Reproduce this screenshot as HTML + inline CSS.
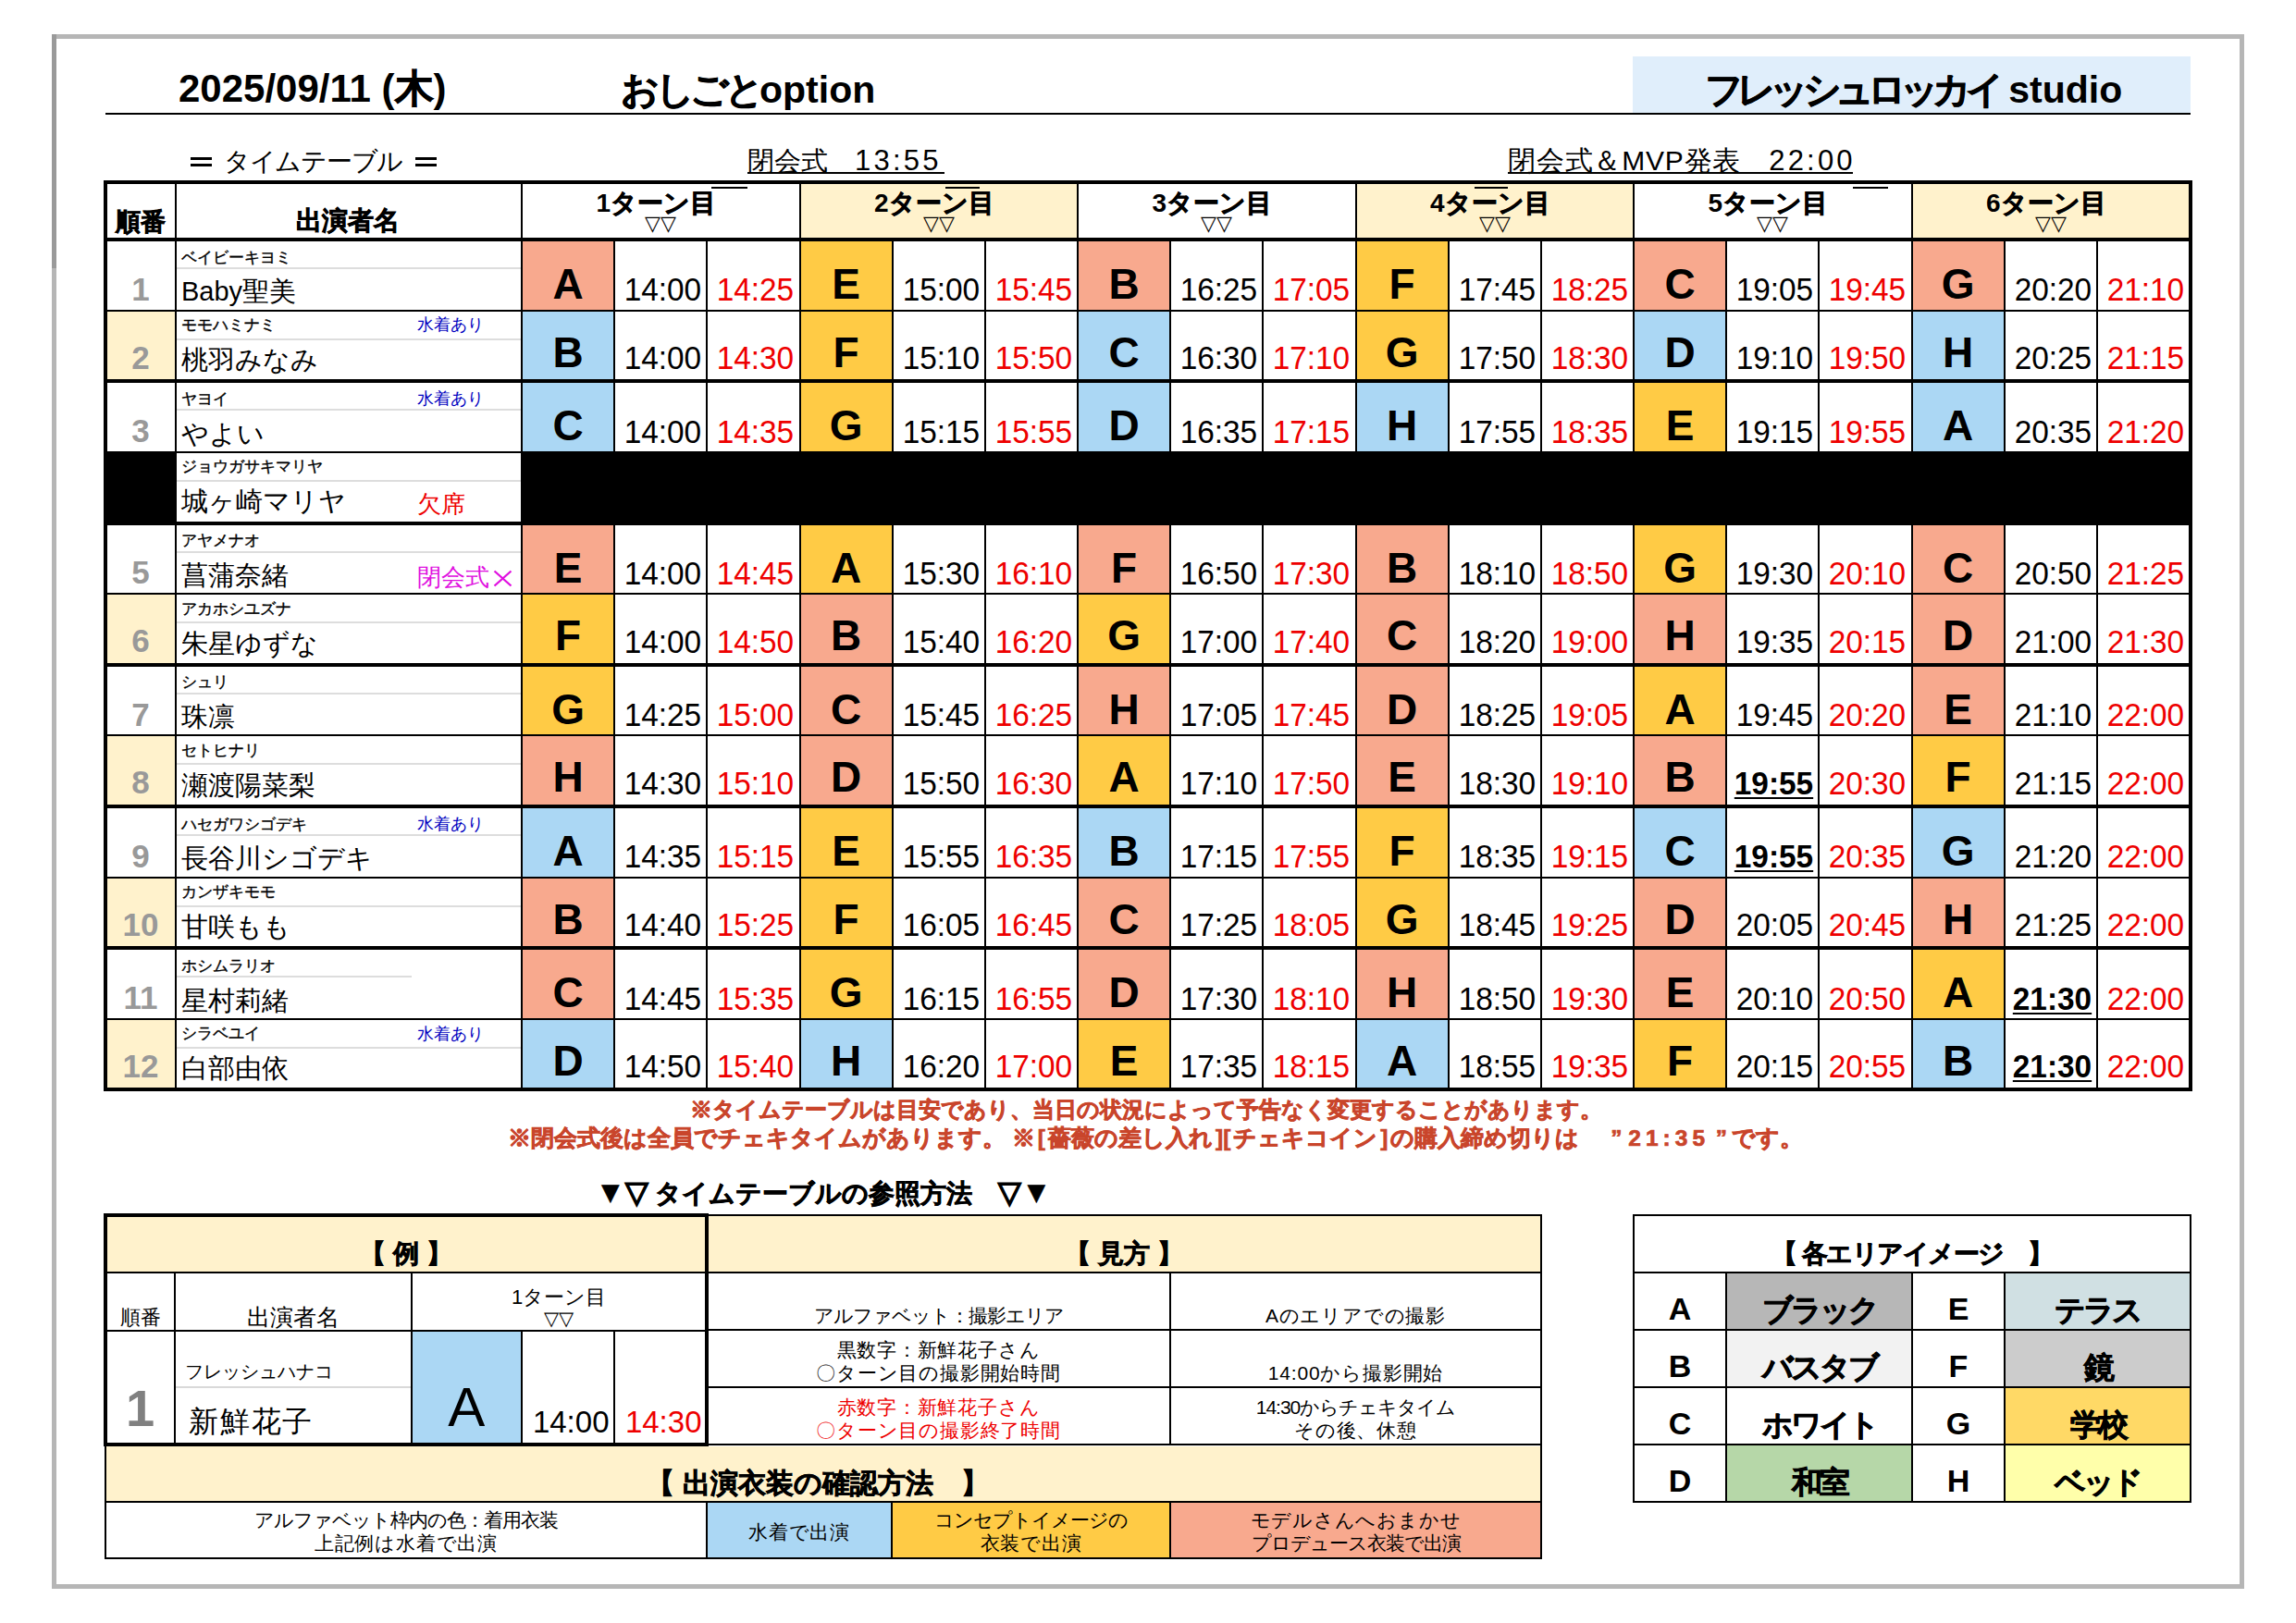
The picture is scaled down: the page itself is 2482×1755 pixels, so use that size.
<!DOCTYPE html>
<html><head><meta charset="utf-8"><style>
html,body{margin:0;padding:0;background:#fff;}
body{width:2482px;height:1755px;position:relative;overflow:hidden;font-family:"Liberation Sans",sans-serif;}
body>div,body>svg{position:absolute;white-space:nowrap;}
.b{-webkit-text-stroke:0.7px currentColor;}
</style></head><body>
<div style="left:56px;top:37px;width:2370px;height:5px;background:#b6b6b6;"></div>
<div style="left:56px;top:37px;width:5px;height:253px;background:#9a9a9a;"></div>
<div style="left:56px;top:290px;width:5px;height:1428px;background:#b6b6b6;"></div>
<div style="left:2421px;top:37px;width:5px;height:1681px;background:#b6b6b6;"></div>
<div style="left:56px;top:1713px;width:2370px;height:5px;background:#b6b6b6;"></div>
<div style="left:193.00px;top:75.45px;font-size:42px;line-height:42px;color:#000;font-weight:bold;">2025/09/11 (<span class="b">木</span>)</div>
<div style="left:671.00px;top:76.79px;font-size:41px;line-height:41px;color:#000;font-weight:bold;"><span class="b" style="letter-spacing:-4.5px">おしごと</span>option</div>
<div style="left:1765px;top:61px;width:603px;height:62px;background:#E0EEFB;"></div>
<div style="left:1843.00px;top:76.79px;font-size:41px;line-height:41px;color:#000;font-weight:bold;"><span class="b" style="letter-spacing:-6.8px">フレッシュロッカイ</span> studio</div>
<div style="left:114px;top:122px;width:2254px;height:2px;background:#000;"></div>
<div style="left:242.00px;top:161.30px;font-size:28px;line-height:28px;color:#000;"><span style="letter-spacing:-1.3px">タイムテーブル</span></div>
<div style="left:206px;top:169.5px;width:23px;height:3px;background:#000;"></div>
<div style="left:206px;top:176.5px;width:23px;height:3px;background:#000;"></div>
<div style="left:449px;top:169.5px;width:23px;height:3px;background:#000;"></div>
<div style="left:449px;top:176.5px;width:23px;height:3px;background:#000;"></div>
<div style="left:808.00px;top:158.95px;font-size:29px;line-height:29px;color:#000;">閉会式　<span style="letter-spacing:3.2px;font-size:31px">13:55</span></div>
<div style="left:808px;top:185.5px;width:213px;height:2px;background:#000;"></div>
<div style="left:1630.00px;top:158.60px;font-size:30px;line-height:30px;color:#000;"><span style="letter-spacing:0.8px">閉会式＆MVP発表</span>　<span style="letter-spacing:3.2px;font-size:31px">22:00</span></div>
<div style="left:1630px;top:185.5px;width:373px;height:2px;background:#000;"></div>
<div style="left:864.5px;top:199px;width:300.5px;height:60px;background:#FFF2CC;"></div>
<div style="left:1465.5px;top:199px;width:300.5px;height:60px;background:#FFF2CC;"></div>
<div style="left:2066.5px;top:199px;width:300.5px;height:60px;background:#FFF2CC;"></div>
<div style="left:564.0px;top:259.0px;width:100.16666666666667px;height:76.625px;background:#F8A98E;"></div>
<div style="left:864.5px;top:259.0px;width:100.16666666666667px;height:76.625px;background:#FFCB45;"></div>
<div style="left:1165.0px;top:259.0px;width:100.16666666666667px;height:76.625px;background:#F8A98E;"></div>
<div style="left:1465.5px;top:259.0px;width:100.16666666666667px;height:76.625px;background:#FFCB45;"></div>
<div style="left:1766.0px;top:259.0px;width:100.16666666666667px;height:76.625px;background:#F8A98E;"></div>
<div style="left:2066.5px;top:259.0px;width:100.16666666666667px;height:76.625px;background:#F8A98E;"></div>
<div style="left:190px;top:289.0px;width:374px;height:2px;background:#dddddd;"></div>
<div style="left:114px;top:335.625px;width:76px;height:76.625px;background:#FFF2CC;"></div>
<div style="left:564.0px;top:335.625px;width:100.16666666666667px;height:76.625px;background:#ABD7F4;"></div>
<div style="left:864.5px;top:335.625px;width:100.16666666666667px;height:76.625px;background:#FFCB45;"></div>
<div style="left:1165.0px;top:335.625px;width:100.16666666666667px;height:76.625px;background:#ABD7F4;"></div>
<div style="left:1465.5px;top:335.625px;width:100.16666666666667px;height:76.625px;background:#FFCB45;"></div>
<div style="left:1766.0px;top:335.625px;width:100.16666666666667px;height:76.625px;background:#ABD7F4;"></div>
<div style="left:2066.5px;top:335.625px;width:100.16666666666667px;height:76.625px;background:#ABD7F4;"></div>
<div style="left:190px;top:365.625px;width:374px;height:2px;background:#dddddd;"></div>
<div style="left:564.0px;top:412.25px;width:100.16666666666667px;height:76.625px;background:#ABD7F4;"></div>
<div style="left:864.5px;top:412.25px;width:100.16666666666667px;height:76.625px;background:#FFCB45;"></div>
<div style="left:1165.0px;top:412.25px;width:100.16666666666667px;height:76.625px;background:#ABD7F4;"></div>
<div style="left:1465.5px;top:412.25px;width:100.16666666666667px;height:76.625px;background:#ABD7F4;"></div>
<div style="left:1766.0px;top:412.25px;width:100.16666666666667px;height:76.625px;background:#FFCB45;"></div>
<div style="left:2066.5px;top:412.25px;width:100.16666666666667px;height:76.625px;background:#ABD7F4;"></div>
<div style="left:190px;top:442.25px;width:374px;height:2px;background:#dddddd;"></div>
<div style="left:114px;top:488.875px;width:76px;height:76.625px;background:#000;"></div>
<div style="left:564.0px;top:488.875px;width:1804.0px;height:77.625px;background:#000;"></div>
<div style="left:190px;top:518.875px;width:374px;height:2px;background:#dddddd;"></div>
<div style="left:564.0px;top:565.5px;width:100.16666666666667px;height:76.625px;background:#F8A98E;"></div>
<div style="left:864.5px;top:565.5px;width:100.16666666666667px;height:76.625px;background:#FFCB45;"></div>
<div style="left:1165.0px;top:565.5px;width:100.16666666666667px;height:76.625px;background:#F8A98E;"></div>
<div style="left:1465.5px;top:565.5px;width:100.16666666666667px;height:76.625px;background:#F8A98E;"></div>
<div style="left:1766.0px;top:565.5px;width:100.16666666666667px;height:76.625px;background:#FFCB45;"></div>
<div style="left:2066.5px;top:565.5px;width:100.16666666666667px;height:76.625px;background:#F8A98E;"></div>
<div style="left:190px;top:595.5px;width:374px;height:2px;background:#dddddd;"></div>
<div style="left:114px;top:642.125px;width:76px;height:76.625px;background:#FFF2CC;"></div>
<div style="left:564.0px;top:642.125px;width:100.16666666666667px;height:76.625px;background:#FFCB45;"></div>
<div style="left:864.5px;top:642.125px;width:100.16666666666667px;height:76.625px;background:#F8A98E;"></div>
<div style="left:1165.0px;top:642.125px;width:100.16666666666667px;height:76.625px;background:#FFCB45;"></div>
<div style="left:1465.5px;top:642.125px;width:100.16666666666667px;height:76.625px;background:#F8A98E;"></div>
<div style="left:1766.0px;top:642.125px;width:100.16666666666667px;height:76.625px;background:#F8A98E;"></div>
<div style="left:2066.5px;top:642.125px;width:100.16666666666667px;height:76.625px;background:#F8A98E;"></div>
<div style="left:190px;top:672.125px;width:374px;height:2px;background:#dddddd;"></div>
<div style="left:564.0px;top:718.75px;width:100.16666666666667px;height:76.625px;background:#FFCB45;"></div>
<div style="left:864.5px;top:718.75px;width:100.16666666666667px;height:76.625px;background:#F8A98E;"></div>
<div style="left:1165.0px;top:718.75px;width:100.16666666666667px;height:76.625px;background:#F8A98E;"></div>
<div style="left:1465.5px;top:718.75px;width:100.16666666666667px;height:76.625px;background:#F8A98E;"></div>
<div style="left:1766.0px;top:718.75px;width:100.16666666666667px;height:76.625px;background:#FFCB45;"></div>
<div style="left:2066.5px;top:718.75px;width:100.16666666666667px;height:76.625px;background:#F8A98E;"></div>
<div style="left:190px;top:748.75px;width:374px;height:2px;background:#dddddd;"></div>
<div style="left:114px;top:795.375px;width:76px;height:76.625px;background:#FFF2CC;"></div>
<div style="left:564.0px;top:795.375px;width:100.16666666666667px;height:76.625px;background:#F8A98E;"></div>
<div style="left:864.5px;top:795.375px;width:100.16666666666667px;height:76.625px;background:#F8A98E;"></div>
<div style="left:1165.0px;top:795.375px;width:100.16666666666667px;height:76.625px;background:#FFCB45;"></div>
<div style="left:1465.5px;top:795.375px;width:100.16666666666667px;height:76.625px;background:#F8A98E;"></div>
<div style="left:1766.0px;top:795.375px;width:100.16666666666667px;height:76.625px;background:#F8A98E;"></div>
<div style="left:2066.5px;top:795.375px;width:100.16666666666667px;height:76.625px;background:#FFCB45;"></div>
<div style="left:190px;top:825.375px;width:374px;height:2px;background:#dddddd;"></div>
<div style="left:564.0px;top:872.0px;width:100.16666666666667px;height:76.625px;background:#ABD7F4;"></div>
<div style="left:864.5px;top:872.0px;width:100.16666666666667px;height:76.625px;background:#FFCB45;"></div>
<div style="left:1165.0px;top:872.0px;width:100.16666666666667px;height:76.625px;background:#ABD7F4;"></div>
<div style="left:1465.5px;top:872.0px;width:100.16666666666667px;height:76.625px;background:#FFCB45;"></div>
<div style="left:1766.0px;top:872.0px;width:100.16666666666667px;height:76.625px;background:#ABD7F4;"></div>
<div style="left:2066.5px;top:872.0px;width:100.16666666666667px;height:76.625px;background:#ABD7F4;"></div>
<div style="left:190px;top:902.0px;width:374px;height:2px;background:#dddddd;"></div>
<div style="left:114px;top:948.625px;width:76px;height:76.625px;background:#FFF2CC;"></div>
<div style="left:564.0px;top:948.625px;width:100.16666666666667px;height:76.625px;background:#F8A98E;"></div>
<div style="left:864.5px;top:948.625px;width:100.16666666666667px;height:76.625px;background:#FFCB45;"></div>
<div style="left:1165.0px;top:948.625px;width:100.16666666666667px;height:76.625px;background:#F8A98E;"></div>
<div style="left:1465.5px;top:948.625px;width:100.16666666666667px;height:76.625px;background:#FFCB45;"></div>
<div style="left:1766.0px;top:948.625px;width:100.16666666666667px;height:76.625px;background:#F8A98E;"></div>
<div style="left:2066.5px;top:948.625px;width:100.16666666666667px;height:76.625px;background:#F8A98E;"></div>
<div style="left:190px;top:978.625px;width:374px;height:2px;background:#dddddd;"></div>
<div style="left:564.0px;top:1025.25px;width:100.16666666666667px;height:76.625px;background:#F8A98E;"></div>
<div style="left:864.5px;top:1025.25px;width:100.16666666666667px;height:76.625px;background:#FFCB45;"></div>
<div style="left:1165.0px;top:1025.25px;width:100.16666666666667px;height:76.625px;background:#F8A98E;"></div>
<div style="left:1465.5px;top:1025.25px;width:100.16666666666667px;height:76.625px;background:#F8A98E;"></div>
<div style="left:1766.0px;top:1025.25px;width:100.16666666666667px;height:76.625px;background:#F8A98E;"></div>
<div style="left:2066.5px;top:1025.25px;width:100.16666666666667px;height:76.625px;background:#FFCB45;"></div>
<div style="left:190px;top:1055.25px;width:255px;height:2px;background:#dddddd;"></div>
<div style="left:114px;top:1101.875px;width:76px;height:76.625px;background:#FFF2CC;"></div>
<div style="left:564.0px;top:1101.875px;width:100.16666666666667px;height:76.625px;background:#ABD7F4;"></div>
<div style="left:864.5px;top:1101.875px;width:100.16666666666667px;height:76.625px;background:#ABD7F4;"></div>
<div style="left:1165.0px;top:1101.875px;width:100.16666666666667px;height:76.625px;background:#FFCB45;"></div>
<div style="left:1465.5px;top:1101.875px;width:100.16666666666667px;height:76.625px;background:#ABD7F4;"></div>
<div style="left:1766.0px;top:1101.875px;width:100.16666666666667px;height:76.625px;background:#FFCB45;"></div>
<div style="left:2066.5px;top:1101.875px;width:100.16666666666667px;height:76.625px;background:#ABD7F4;"></div>
<div style="left:190px;top:1131.875px;width:374px;height:2px;background:#dddddd;"></div>
<div style="left:188.5px;top:199px;width:2px;height:979px;background:#000;"></div>
<div style="left:563px;top:199px;width:2px;height:979px;background:#000;"></div>
<div style="left:663.1666666666666px;top:259px;width:2px;height:919px;background:#000;"></div>
<div style="left:763.3333333333334px;top:259px;width:2px;height:919px;background:#000;"></div>
<div style="left:863.5px;top:199px;width:2px;height:979px;background:#000;"></div>
<div style="left:963.6666666666667px;top:259px;width:2px;height:919px;background:#000;"></div>
<div style="left:1063.8333333333335px;top:259px;width:2px;height:919px;background:#000;"></div>
<div style="left:1164.0px;top:199px;width:2px;height:979px;background:#000;"></div>
<div style="left:1264.1666666666667px;top:259px;width:2px;height:919px;background:#000;"></div>
<div style="left:1364.3333333333335px;top:259px;width:2px;height:919px;background:#000;"></div>
<div style="left:1464.5px;top:199px;width:2px;height:979px;background:#000;"></div>
<div style="left:1564.6666666666667px;top:259px;width:2px;height:919px;background:#000;"></div>
<div style="left:1664.8333333333335px;top:259px;width:2px;height:919px;background:#000;"></div>
<div style="left:1765.0px;top:199px;width:2px;height:979px;background:#000;"></div>
<div style="left:1865.1666666666667px;top:259px;width:2px;height:919px;background:#000;"></div>
<div style="left:1965.3333333333335px;top:259px;width:2px;height:919px;background:#000;"></div>
<div style="left:2065.5px;top:199px;width:2px;height:979px;background:#000;"></div>
<div style="left:2165.666666666667px;top:259px;width:2px;height:919px;background:#000;"></div>
<div style="left:2265.8333333333335px;top:259px;width:2px;height:919px;background:#000;"></div>
<div style="left:114px;top:334.625px;width:2254px;height:2px;background:#000;"></div>
<div style="left:114px;top:410.25px;width:2254px;height:4px;background:#000;"></div>
<div style="left:114px;top:487.875px;width:2254px;height:2px;background:#000;"></div>
<div style="left:114px;top:563.5px;width:2254px;height:4px;background:#000;"></div>
<div style="left:114px;top:641.125px;width:2254px;height:2px;background:#000;"></div>
<div style="left:114px;top:716.75px;width:2254px;height:4px;background:#000;"></div>
<div style="left:114px;top:794.375px;width:2254px;height:2px;background:#000;"></div>
<div style="left:114px;top:870.0px;width:2254px;height:4px;background:#000;"></div>
<div style="left:114px;top:947.625px;width:2254px;height:2px;background:#000;"></div>
<div style="left:114px;top:1023.25px;width:2254px;height:4px;background:#000;"></div>
<div style="left:114px;top:1100.875px;width:2254px;height:2px;background:#000;"></div>
<div style="left:114px;top:257px;width:2254px;height:4px;background:#000;"></div>
<div style="left:112px;top:195px;width:2258px;height:985px;border:4px solid #000;box-sizing:border-box"></div>
<div style="left:114.00px;top:226.64px;font-size:27px;line-height:27px;color:#000;font-weight:bold;width:76px;text-align:center;"><span class="b">順番</span></div>
<div style="left:190.00px;top:224.80px;font-size:28px;line-height:28px;color:#000;font-weight:bold;width:372px;text-align:center;"><span class="b">出演者名</span></div>
<div style="left:559.00px;top:206.30px;font-size:28px;line-height:28px;color:#000;font-weight:bold;width:300.5px;text-align:center;">1<span class="b">ターン目</span></div>
<div style="left:564.00px;top:231.38px;font-size:22px;line-height:22px;color:#000;width:300.5px;text-align:center;">▽▽</div>
<div style="left:859.50px;top:206.30px;font-size:28px;line-height:28px;color:#000;font-weight:bold;width:300.5px;text-align:center;">2<span class="b">ターン目</span></div>
<div style="left:864.50px;top:231.38px;font-size:22px;line-height:22px;color:#000;width:300.5px;text-align:center;">▽▽</div>
<div style="left:1160.00px;top:206.30px;font-size:28px;line-height:28px;color:#000;font-weight:bold;width:300.5px;text-align:center;">3<span class="b">ターン目</span></div>
<div style="left:1165.00px;top:231.38px;font-size:22px;line-height:22px;color:#000;width:300.5px;text-align:center;">▽▽</div>
<div style="left:1460.50px;top:206.30px;font-size:28px;line-height:28px;color:#000;font-weight:bold;width:300.5px;text-align:center;">4<span class="b">ターン目</span></div>
<div style="left:1465.50px;top:231.38px;font-size:22px;line-height:22px;color:#000;width:300.5px;text-align:center;">▽▽</div>
<div style="left:1761.00px;top:206.30px;font-size:28px;line-height:28px;color:#000;font-weight:bold;width:300.5px;text-align:center;">5<span class="b">ターン目</span></div>
<div style="left:1766.00px;top:231.38px;font-size:22px;line-height:22px;color:#000;width:300.5px;text-align:center;">▽▽</div>
<div style="left:2061.50px;top:206.30px;font-size:28px;line-height:28px;color:#000;font-weight:bold;width:300.5px;text-align:center;">6<span class="b">ターン目</span></div>
<div style="left:2066.50px;top:231.38px;font-size:22px;line-height:22px;color:#000;width:300.5px;text-align:center;">▽▽</div>
<div style="left:114.00px;top:294.87px;font-size:35px;line-height:35px;color:#999999;font-weight:bold;width:76px;text-align:center;">1</div>
<div style="left:196.00px;top:269.61px;font-size:17px;line-height:17px;color:#000;-webkit-text-stroke:0.35px #000;">ベイビーキヨミ</div>
<div style="left:196.00px;top:301.45px;font-size:29px;line-height:29px;color:#000;">Baby聖美</div>
<div style="left:564.00px;top:284.06px;font-size:46px;line-height:46px;color:#000;font-weight:bold;width:100.16666666666667px;text-align:center;">A</div>
<div style="left:664.17px;top:296.45px;font-size:35.5px;line-height:35.5px;color:#000;transform:scaleX(0.94);transform-origin:right 50%;width:94.16666666666667px;text-align:right;">14:00</div>
<div style="left:764.33px;top:296.45px;font-size:35.5px;line-height:35.5px;color:#EE0000;transform:scaleX(0.94);transform-origin:right 50%;width:94.16666666666667px;text-align:right;">14:25</div>
<div style="left:864.50px;top:284.06px;font-size:46px;line-height:46px;color:#000;font-weight:bold;width:100.16666666666667px;text-align:center;">E</div>
<div style="left:964.67px;top:296.45px;font-size:35.5px;line-height:35.5px;color:#000;transform:scaleX(0.94);transform-origin:right 50%;width:94.16666666666667px;text-align:right;">15:00</div>
<div style="left:1064.83px;top:296.45px;font-size:35.5px;line-height:35.5px;color:#EE0000;transform:scaleX(0.94);transform-origin:right 50%;width:94.16666666666667px;text-align:right;">15:45</div>
<div style="left:1165.00px;top:284.06px;font-size:46px;line-height:46px;color:#000;font-weight:bold;width:100.16666666666667px;text-align:center;">B</div>
<div style="left:1265.17px;top:296.45px;font-size:35.5px;line-height:35.5px;color:#000;transform:scaleX(0.94);transform-origin:right 50%;width:94.16666666666667px;text-align:right;">16:25</div>
<div style="left:1365.33px;top:296.45px;font-size:35.5px;line-height:35.5px;color:#EE0000;transform:scaleX(0.94);transform-origin:right 50%;width:94.16666666666667px;text-align:right;">17:05</div>
<div style="left:1465.50px;top:284.06px;font-size:46px;line-height:46px;color:#000;font-weight:bold;width:100.16666666666667px;text-align:center;">F</div>
<div style="left:1565.67px;top:296.45px;font-size:35.5px;line-height:35.5px;color:#000;transform:scaleX(0.94);transform-origin:right 50%;width:94.16666666666667px;text-align:right;">17:45</div>
<div style="left:1665.83px;top:296.45px;font-size:35.5px;line-height:35.5px;color:#EE0000;transform:scaleX(0.94);transform-origin:right 50%;width:94.16666666666667px;text-align:right;">18:25</div>
<div style="left:1766.00px;top:284.06px;font-size:46px;line-height:46px;color:#000;font-weight:bold;width:100.16666666666667px;text-align:center;">C</div>
<div style="left:1866.17px;top:296.45px;font-size:35.5px;line-height:35.5px;color:#000;transform:scaleX(0.94);transform-origin:right 50%;width:94.16666666666667px;text-align:right;">19:05</div>
<div style="left:1966.33px;top:296.45px;font-size:35.5px;line-height:35.5px;color:#EE0000;transform:scaleX(0.94);transform-origin:right 50%;width:94.16666666666667px;text-align:right;">19:45</div>
<div style="left:2066.50px;top:284.06px;font-size:46px;line-height:46px;color:#000;font-weight:bold;width:100.16666666666667px;text-align:center;">G</div>
<div style="left:2166.67px;top:296.45px;font-size:35.5px;line-height:35.5px;color:#000;transform:scaleX(0.94);transform-origin:right 50%;width:94.16666666666667px;text-align:right;">20:20</div>
<div style="left:2266.83px;top:296.45px;font-size:35.5px;line-height:35.5px;color:#EE0000;transform:scaleX(0.94);transform-origin:right 50%;width:94.16666666666667px;text-align:right;">21:10</div>
<div style="left:114.00px;top:368.50px;font-size:35px;line-height:35px;color:#999999;font-weight:bold;width:76px;text-align:center;">2</div>
<div style="left:196.00px;top:343.23px;font-size:17px;line-height:17px;color:#000;-webkit-text-stroke:0.35px #000;">モモハミナミ</div>
<div style="left:196.00px;top:375.08px;font-size:29px;line-height:29px;color:#000;">桃羽みなみ</div>
<div style="left:451.00px;top:342.39px;font-size:18px;line-height:18px;color:#0000C0;">水着あり</div>
<div style="left:564.00px;top:357.69px;font-size:46px;line-height:46px;color:#000;font-weight:bold;width:100.16666666666667px;text-align:center;">B</div>
<div style="left:664.17px;top:370.07px;font-size:35.5px;line-height:35.5px;color:#000;transform:scaleX(0.94);transform-origin:right 50%;width:94.16666666666667px;text-align:right;">14:00</div>
<div style="left:764.33px;top:370.07px;font-size:35.5px;line-height:35.5px;color:#EE0000;transform:scaleX(0.94);transform-origin:right 50%;width:94.16666666666667px;text-align:right;">14:30</div>
<div style="left:864.50px;top:357.69px;font-size:46px;line-height:46px;color:#000;font-weight:bold;width:100.16666666666667px;text-align:center;">F</div>
<div style="left:964.67px;top:370.07px;font-size:35.5px;line-height:35.5px;color:#000;transform:scaleX(0.94);transform-origin:right 50%;width:94.16666666666667px;text-align:right;">15:10</div>
<div style="left:1064.83px;top:370.07px;font-size:35.5px;line-height:35.5px;color:#EE0000;transform:scaleX(0.94);transform-origin:right 50%;width:94.16666666666667px;text-align:right;">15:50</div>
<div style="left:1165.00px;top:357.69px;font-size:46px;line-height:46px;color:#000;font-weight:bold;width:100.16666666666667px;text-align:center;">C</div>
<div style="left:1265.17px;top:370.07px;font-size:35.5px;line-height:35.5px;color:#000;transform:scaleX(0.94);transform-origin:right 50%;width:94.16666666666667px;text-align:right;">16:30</div>
<div style="left:1365.33px;top:370.07px;font-size:35.5px;line-height:35.5px;color:#EE0000;transform:scaleX(0.94);transform-origin:right 50%;width:94.16666666666667px;text-align:right;">17:10</div>
<div style="left:1465.50px;top:357.69px;font-size:46px;line-height:46px;color:#000;font-weight:bold;width:100.16666666666667px;text-align:center;">G</div>
<div style="left:1565.67px;top:370.07px;font-size:35.5px;line-height:35.5px;color:#000;transform:scaleX(0.94);transform-origin:right 50%;width:94.16666666666667px;text-align:right;">17:50</div>
<div style="left:1665.83px;top:370.07px;font-size:35.5px;line-height:35.5px;color:#EE0000;transform:scaleX(0.94);transform-origin:right 50%;width:94.16666666666667px;text-align:right;">18:30</div>
<div style="left:1766.00px;top:357.69px;font-size:46px;line-height:46px;color:#000;font-weight:bold;width:100.16666666666667px;text-align:center;">D</div>
<div style="left:1866.17px;top:370.07px;font-size:35.5px;line-height:35.5px;color:#000;transform:scaleX(0.94);transform-origin:right 50%;width:94.16666666666667px;text-align:right;">19:10</div>
<div style="left:1966.33px;top:370.07px;font-size:35.5px;line-height:35.5px;color:#EE0000;transform:scaleX(0.94);transform-origin:right 50%;width:94.16666666666667px;text-align:right;">19:50</div>
<div style="left:2066.50px;top:357.69px;font-size:46px;line-height:46px;color:#000;font-weight:bold;width:100.16666666666667px;text-align:center;">H</div>
<div style="left:2166.67px;top:370.07px;font-size:35.5px;line-height:35.5px;color:#000;transform:scaleX(0.94);transform-origin:right 50%;width:94.16666666666667px;text-align:right;">20:25</div>
<div style="left:2266.83px;top:370.07px;font-size:35.5px;line-height:35.5px;color:#EE0000;transform:scaleX(0.94);transform-origin:right 50%;width:94.16666666666667px;text-align:right;">21:15</div>
<div style="left:114.00px;top:448.12px;font-size:35px;line-height:35px;color:#999999;font-weight:bold;width:76px;text-align:center;">3</div>
<div style="left:196.00px;top:422.86px;font-size:17px;line-height:17px;color:#000;-webkit-text-stroke:0.35px #000;">ヤヨイ</div>
<div style="left:196.00px;top:454.70px;font-size:29px;line-height:29px;color:#000;">やよい</div>
<div style="left:451.00px;top:422.01px;font-size:18px;line-height:18px;color:#0000C0;">水着あり</div>
<div style="left:564.00px;top:437.31px;font-size:46px;line-height:46px;color:#000;font-weight:bold;width:100.16666666666667px;text-align:center;">C</div>
<div style="left:664.17px;top:449.70px;font-size:35.5px;line-height:35.5px;color:#000;transform:scaleX(0.94);transform-origin:right 50%;width:94.16666666666667px;text-align:right;">14:00</div>
<div style="left:764.33px;top:449.70px;font-size:35.5px;line-height:35.5px;color:#EE0000;transform:scaleX(0.94);transform-origin:right 50%;width:94.16666666666667px;text-align:right;">14:35</div>
<div style="left:864.50px;top:437.31px;font-size:46px;line-height:46px;color:#000;font-weight:bold;width:100.16666666666667px;text-align:center;">G</div>
<div style="left:964.67px;top:449.70px;font-size:35.5px;line-height:35.5px;color:#000;transform:scaleX(0.94);transform-origin:right 50%;width:94.16666666666667px;text-align:right;">15:15</div>
<div style="left:1064.83px;top:449.70px;font-size:35.5px;line-height:35.5px;color:#EE0000;transform:scaleX(0.94);transform-origin:right 50%;width:94.16666666666667px;text-align:right;">15:55</div>
<div style="left:1165.00px;top:437.31px;font-size:46px;line-height:46px;color:#000;font-weight:bold;width:100.16666666666667px;text-align:center;">D</div>
<div style="left:1265.17px;top:449.70px;font-size:35.5px;line-height:35.5px;color:#000;transform:scaleX(0.94);transform-origin:right 50%;width:94.16666666666667px;text-align:right;">16:35</div>
<div style="left:1365.33px;top:449.70px;font-size:35.5px;line-height:35.5px;color:#EE0000;transform:scaleX(0.94);transform-origin:right 50%;width:94.16666666666667px;text-align:right;">17:15</div>
<div style="left:1465.50px;top:437.31px;font-size:46px;line-height:46px;color:#000;font-weight:bold;width:100.16666666666667px;text-align:center;">H</div>
<div style="left:1565.67px;top:449.70px;font-size:35.5px;line-height:35.5px;color:#000;transform:scaleX(0.94);transform-origin:right 50%;width:94.16666666666667px;text-align:right;">17:55</div>
<div style="left:1665.83px;top:449.70px;font-size:35.5px;line-height:35.5px;color:#EE0000;transform:scaleX(0.94);transform-origin:right 50%;width:94.16666666666667px;text-align:right;">18:35</div>
<div style="left:1766.00px;top:437.31px;font-size:46px;line-height:46px;color:#000;font-weight:bold;width:100.16666666666667px;text-align:center;">E</div>
<div style="left:1866.17px;top:449.70px;font-size:35.5px;line-height:35.5px;color:#000;transform:scaleX(0.94);transform-origin:right 50%;width:94.16666666666667px;text-align:right;">19:15</div>
<div style="left:1966.33px;top:449.70px;font-size:35.5px;line-height:35.5px;color:#EE0000;transform:scaleX(0.94);transform-origin:right 50%;width:94.16666666666667px;text-align:right;">19:55</div>
<div style="left:2066.50px;top:437.31px;font-size:46px;line-height:46px;color:#000;font-weight:bold;width:100.16666666666667px;text-align:center;">A</div>
<div style="left:2166.67px;top:449.70px;font-size:35.5px;line-height:35.5px;color:#000;transform:scaleX(0.94);transform-origin:right 50%;width:94.16666666666667px;text-align:right;">20:35</div>
<div style="left:2266.83px;top:449.70px;font-size:35.5px;line-height:35.5px;color:#EE0000;transform:scaleX(0.94);transform-origin:right 50%;width:94.16666666666667px;text-align:right;">21:20</div>
<div style="left:196.00px;top:496.48px;font-size:17px;line-height:17px;color:#000;-webkit-text-stroke:0.35px #000;">ジョウガサキマリヤ</div>
<div style="left:196.00px;top:528.33px;font-size:29px;line-height:29px;color:#000;">城ヶ崎マリヤ</div>
<div style="left:451.00px;top:531.87px;font-size:26px;line-height:26px;color:#EE0000;">欠席</div>
<div style="left:114.00px;top:601.37px;font-size:35px;line-height:35px;color:#999999;font-weight:bold;width:76px;text-align:center;">5</div>
<div style="left:196.00px;top:576.11px;font-size:17px;line-height:17px;color:#000;-webkit-text-stroke:0.35px #000;">アヤメナオ</div>
<div style="left:196.00px;top:607.95px;font-size:29px;line-height:29px;color:#000;">菖蒲奈緒</div>
<div style="left:451.00px;top:611.49px;font-size:26px;line-height:26px;color:#E010E0;">閉会式</div>
<svg style="left:533px;top:616.00px" width="21" height="19" viewBox="0 0 21 19"><path d="M1.5 1.5L19.5 17.5M19.5 1.5L1.5 17.5" stroke="#E010E0" stroke-width="2.3" fill="none"/></svg>
<div style="left:564.00px;top:590.56px;font-size:46px;line-height:46px;color:#000;font-weight:bold;width:100.16666666666667px;text-align:center;">E</div>
<div style="left:664.17px;top:602.95px;font-size:35.5px;line-height:35.5px;color:#000;transform:scaleX(0.94);transform-origin:right 50%;width:94.16666666666667px;text-align:right;">14:00</div>
<div style="left:764.33px;top:602.95px;font-size:35.5px;line-height:35.5px;color:#EE0000;transform:scaleX(0.94);transform-origin:right 50%;width:94.16666666666667px;text-align:right;">14:45</div>
<div style="left:864.50px;top:590.56px;font-size:46px;line-height:46px;color:#000;font-weight:bold;width:100.16666666666667px;text-align:center;">A</div>
<div style="left:964.67px;top:602.95px;font-size:35.5px;line-height:35.5px;color:#000;transform:scaleX(0.94);transform-origin:right 50%;width:94.16666666666667px;text-align:right;">15:30</div>
<div style="left:1064.83px;top:602.95px;font-size:35.5px;line-height:35.5px;color:#EE0000;transform:scaleX(0.94);transform-origin:right 50%;width:94.16666666666667px;text-align:right;">16:10</div>
<div style="left:1165.00px;top:590.56px;font-size:46px;line-height:46px;color:#000;font-weight:bold;width:100.16666666666667px;text-align:center;">F</div>
<div style="left:1265.17px;top:602.95px;font-size:35.5px;line-height:35.5px;color:#000;transform:scaleX(0.94);transform-origin:right 50%;width:94.16666666666667px;text-align:right;">16:50</div>
<div style="left:1365.33px;top:602.95px;font-size:35.5px;line-height:35.5px;color:#EE0000;transform:scaleX(0.94);transform-origin:right 50%;width:94.16666666666667px;text-align:right;">17:30</div>
<div style="left:1465.50px;top:590.56px;font-size:46px;line-height:46px;color:#000;font-weight:bold;width:100.16666666666667px;text-align:center;">B</div>
<div style="left:1565.67px;top:602.95px;font-size:35.5px;line-height:35.5px;color:#000;transform:scaleX(0.94);transform-origin:right 50%;width:94.16666666666667px;text-align:right;">18:10</div>
<div style="left:1665.83px;top:602.95px;font-size:35.5px;line-height:35.5px;color:#EE0000;transform:scaleX(0.94);transform-origin:right 50%;width:94.16666666666667px;text-align:right;">18:50</div>
<div style="left:1766.00px;top:590.56px;font-size:46px;line-height:46px;color:#000;font-weight:bold;width:100.16666666666667px;text-align:center;">G</div>
<div style="left:1866.17px;top:602.95px;font-size:35.5px;line-height:35.5px;color:#000;transform:scaleX(0.94);transform-origin:right 50%;width:94.16666666666667px;text-align:right;">19:30</div>
<div style="left:1966.33px;top:602.95px;font-size:35.5px;line-height:35.5px;color:#EE0000;transform:scaleX(0.94);transform-origin:right 50%;width:94.16666666666667px;text-align:right;">20:10</div>
<div style="left:2066.50px;top:590.56px;font-size:46px;line-height:46px;color:#000;font-weight:bold;width:100.16666666666667px;text-align:center;">C</div>
<div style="left:2166.67px;top:602.95px;font-size:35.5px;line-height:35.5px;color:#000;transform:scaleX(0.94);transform-origin:right 50%;width:94.16666666666667px;text-align:right;">20:50</div>
<div style="left:2266.83px;top:602.95px;font-size:35.5px;line-height:35.5px;color:#EE0000;transform:scaleX(0.94);transform-origin:right 50%;width:94.16666666666667px;text-align:right;">21:25</div>
<div style="left:114.00px;top:675.00px;font-size:35px;line-height:35px;color:#999999;font-weight:bold;width:76px;text-align:center;">6</div>
<div style="left:196.00px;top:649.73px;font-size:17px;line-height:17px;color:#000;-webkit-text-stroke:0.35px #000;">アカホシユズナ</div>
<div style="left:196.00px;top:681.58px;font-size:29px;line-height:29px;color:#000;">朱星ゆずな</div>
<div style="left:564.00px;top:664.19px;font-size:46px;line-height:46px;color:#000;font-weight:bold;width:100.16666666666667px;text-align:center;">F</div>
<div style="left:664.17px;top:676.57px;font-size:35.5px;line-height:35.5px;color:#000;transform:scaleX(0.94);transform-origin:right 50%;width:94.16666666666667px;text-align:right;">14:00</div>
<div style="left:764.33px;top:676.57px;font-size:35.5px;line-height:35.5px;color:#EE0000;transform:scaleX(0.94);transform-origin:right 50%;width:94.16666666666667px;text-align:right;">14:50</div>
<div style="left:864.50px;top:664.19px;font-size:46px;line-height:46px;color:#000;font-weight:bold;width:100.16666666666667px;text-align:center;">B</div>
<div style="left:964.67px;top:676.57px;font-size:35.5px;line-height:35.5px;color:#000;transform:scaleX(0.94);transform-origin:right 50%;width:94.16666666666667px;text-align:right;">15:40</div>
<div style="left:1064.83px;top:676.57px;font-size:35.5px;line-height:35.5px;color:#EE0000;transform:scaleX(0.94);transform-origin:right 50%;width:94.16666666666667px;text-align:right;">16:20</div>
<div style="left:1165.00px;top:664.19px;font-size:46px;line-height:46px;color:#000;font-weight:bold;width:100.16666666666667px;text-align:center;">G</div>
<div style="left:1265.17px;top:676.57px;font-size:35.5px;line-height:35.5px;color:#000;transform:scaleX(0.94);transform-origin:right 50%;width:94.16666666666667px;text-align:right;">17:00</div>
<div style="left:1365.33px;top:676.57px;font-size:35.5px;line-height:35.5px;color:#EE0000;transform:scaleX(0.94);transform-origin:right 50%;width:94.16666666666667px;text-align:right;">17:40</div>
<div style="left:1465.50px;top:664.19px;font-size:46px;line-height:46px;color:#000;font-weight:bold;width:100.16666666666667px;text-align:center;">C</div>
<div style="left:1565.67px;top:676.57px;font-size:35.5px;line-height:35.5px;color:#000;transform:scaleX(0.94);transform-origin:right 50%;width:94.16666666666667px;text-align:right;">18:20</div>
<div style="left:1665.83px;top:676.57px;font-size:35.5px;line-height:35.5px;color:#EE0000;transform:scaleX(0.94);transform-origin:right 50%;width:94.16666666666667px;text-align:right;">19:00</div>
<div style="left:1766.00px;top:664.19px;font-size:46px;line-height:46px;color:#000;font-weight:bold;width:100.16666666666667px;text-align:center;">H</div>
<div style="left:1866.17px;top:676.57px;font-size:35.5px;line-height:35.5px;color:#000;transform:scaleX(0.94);transform-origin:right 50%;width:94.16666666666667px;text-align:right;">19:35</div>
<div style="left:1966.33px;top:676.57px;font-size:35.5px;line-height:35.5px;color:#EE0000;transform:scaleX(0.94);transform-origin:right 50%;width:94.16666666666667px;text-align:right;">20:15</div>
<div style="left:2066.50px;top:664.19px;font-size:46px;line-height:46px;color:#000;font-weight:bold;width:100.16666666666667px;text-align:center;">D</div>
<div style="left:2166.67px;top:676.57px;font-size:35.5px;line-height:35.5px;color:#000;transform:scaleX(0.94);transform-origin:right 50%;width:94.16666666666667px;text-align:right;">21:00</div>
<div style="left:2266.83px;top:676.57px;font-size:35.5px;line-height:35.5px;color:#EE0000;transform:scaleX(0.94);transform-origin:right 50%;width:94.16666666666667px;text-align:right;">21:30</div>
<div style="left:114.00px;top:754.62px;font-size:35px;line-height:35px;color:#999999;font-weight:bold;width:76px;text-align:center;">7</div>
<div style="left:196.00px;top:729.36px;font-size:17px;line-height:17px;color:#000;-webkit-text-stroke:0.35px #000;">シュリ</div>
<div style="left:196.00px;top:761.20px;font-size:29px;line-height:29px;color:#000;">珠凛</div>
<div style="left:564.00px;top:743.81px;font-size:46px;line-height:46px;color:#000;font-weight:bold;width:100.16666666666667px;text-align:center;">G</div>
<div style="left:664.17px;top:756.20px;font-size:35.5px;line-height:35.5px;color:#000;transform:scaleX(0.94);transform-origin:right 50%;width:94.16666666666667px;text-align:right;">14:25</div>
<div style="left:764.33px;top:756.20px;font-size:35.5px;line-height:35.5px;color:#EE0000;transform:scaleX(0.94);transform-origin:right 50%;width:94.16666666666667px;text-align:right;">15:00</div>
<div style="left:864.50px;top:743.81px;font-size:46px;line-height:46px;color:#000;font-weight:bold;width:100.16666666666667px;text-align:center;">C</div>
<div style="left:964.67px;top:756.20px;font-size:35.5px;line-height:35.5px;color:#000;transform:scaleX(0.94);transform-origin:right 50%;width:94.16666666666667px;text-align:right;">15:45</div>
<div style="left:1064.83px;top:756.20px;font-size:35.5px;line-height:35.5px;color:#EE0000;transform:scaleX(0.94);transform-origin:right 50%;width:94.16666666666667px;text-align:right;">16:25</div>
<div style="left:1165.00px;top:743.81px;font-size:46px;line-height:46px;color:#000;font-weight:bold;width:100.16666666666667px;text-align:center;">H</div>
<div style="left:1265.17px;top:756.20px;font-size:35.5px;line-height:35.5px;color:#000;transform:scaleX(0.94);transform-origin:right 50%;width:94.16666666666667px;text-align:right;">17:05</div>
<div style="left:1365.33px;top:756.20px;font-size:35.5px;line-height:35.5px;color:#EE0000;transform:scaleX(0.94);transform-origin:right 50%;width:94.16666666666667px;text-align:right;">17:45</div>
<div style="left:1465.50px;top:743.81px;font-size:46px;line-height:46px;color:#000;font-weight:bold;width:100.16666666666667px;text-align:center;">D</div>
<div style="left:1565.67px;top:756.20px;font-size:35.5px;line-height:35.5px;color:#000;transform:scaleX(0.94);transform-origin:right 50%;width:94.16666666666667px;text-align:right;">18:25</div>
<div style="left:1665.83px;top:756.20px;font-size:35.5px;line-height:35.5px;color:#EE0000;transform:scaleX(0.94);transform-origin:right 50%;width:94.16666666666667px;text-align:right;">19:05</div>
<div style="left:1766.00px;top:743.81px;font-size:46px;line-height:46px;color:#000;font-weight:bold;width:100.16666666666667px;text-align:center;">A</div>
<div style="left:1866.17px;top:756.20px;font-size:35.5px;line-height:35.5px;color:#000;transform:scaleX(0.94);transform-origin:right 50%;width:94.16666666666667px;text-align:right;">19:45</div>
<div style="left:1966.33px;top:756.20px;font-size:35.5px;line-height:35.5px;color:#EE0000;transform:scaleX(0.94);transform-origin:right 50%;width:94.16666666666667px;text-align:right;">20:20</div>
<div style="left:2066.50px;top:743.81px;font-size:46px;line-height:46px;color:#000;font-weight:bold;width:100.16666666666667px;text-align:center;">E</div>
<div style="left:2166.67px;top:756.20px;font-size:35.5px;line-height:35.5px;color:#000;transform:scaleX(0.94);transform-origin:right 50%;width:94.16666666666667px;text-align:right;">21:10</div>
<div style="left:2266.83px;top:756.20px;font-size:35.5px;line-height:35.5px;color:#EE0000;transform:scaleX(0.94);transform-origin:right 50%;width:94.16666666666667px;text-align:right;">22:00</div>
<div style="left:114.00px;top:828.25px;font-size:35px;line-height:35px;color:#999999;font-weight:bold;width:76px;text-align:center;">8</div>
<div style="left:196.00px;top:802.98px;font-size:17px;line-height:17px;color:#000;-webkit-text-stroke:0.35px #000;">セトヒナリ</div>
<div style="left:196.00px;top:834.83px;font-size:29px;line-height:29px;color:#000;">瀬渡陽菜梨</div>
<div style="left:564.00px;top:817.44px;font-size:46px;line-height:46px;color:#000;font-weight:bold;width:100.16666666666667px;text-align:center;">H</div>
<div style="left:664.17px;top:829.82px;font-size:35.5px;line-height:35.5px;color:#000;transform:scaleX(0.94);transform-origin:right 50%;width:94.16666666666667px;text-align:right;">14:30</div>
<div style="left:764.33px;top:829.82px;font-size:35.5px;line-height:35.5px;color:#EE0000;transform:scaleX(0.94);transform-origin:right 50%;width:94.16666666666667px;text-align:right;">15:10</div>
<div style="left:864.50px;top:817.44px;font-size:46px;line-height:46px;color:#000;font-weight:bold;width:100.16666666666667px;text-align:center;">D</div>
<div style="left:964.67px;top:829.82px;font-size:35.5px;line-height:35.5px;color:#000;transform:scaleX(0.94);transform-origin:right 50%;width:94.16666666666667px;text-align:right;">15:50</div>
<div style="left:1064.83px;top:829.82px;font-size:35.5px;line-height:35.5px;color:#EE0000;transform:scaleX(0.94);transform-origin:right 50%;width:94.16666666666667px;text-align:right;">16:30</div>
<div style="left:1165.00px;top:817.44px;font-size:46px;line-height:46px;color:#000;font-weight:bold;width:100.16666666666667px;text-align:center;">A</div>
<div style="left:1265.17px;top:829.82px;font-size:35.5px;line-height:35.5px;color:#000;transform:scaleX(0.94);transform-origin:right 50%;width:94.16666666666667px;text-align:right;">17:10</div>
<div style="left:1365.33px;top:829.82px;font-size:35.5px;line-height:35.5px;color:#EE0000;transform:scaleX(0.94);transform-origin:right 50%;width:94.16666666666667px;text-align:right;">17:50</div>
<div style="left:1465.50px;top:817.44px;font-size:46px;line-height:46px;color:#000;font-weight:bold;width:100.16666666666667px;text-align:center;">E</div>
<div style="left:1565.67px;top:829.82px;font-size:35.5px;line-height:35.5px;color:#000;transform:scaleX(0.94);transform-origin:right 50%;width:94.16666666666667px;text-align:right;">18:30</div>
<div style="left:1665.83px;top:829.82px;font-size:35.5px;line-height:35.5px;color:#EE0000;transform:scaleX(0.94);transform-origin:right 50%;width:94.16666666666667px;text-align:right;">19:10</div>
<div style="left:1766.00px;top:817.44px;font-size:46px;line-height:46px;color:#000;font-weight:bold;width:100.16666666666667px;text-align:center;">B</div>
<div style="left:1866.17px;top:829.82px;font-size:35.5px;line-height:35.5px;color:#000;transform:scaleX(0.94);transform-origin:right 50%;font-weight:bold;width:94.16666666666667px;text-align:right;text-decoration:underline;text-decoration-thickness:2px;text-underline-offset:3px;">19:55</div>
<div style="left:1966.33px;top:829.82px;font-size:35.5px;line-height:35.5px;color:#EE0000;transform:scaleX(0.94);transform-origin:right 50%;width:94.16666666666667px;text-align:right;">20:30</div>
<div style="left:2066.50px;top:817.44px;font-size:46px;line-height:46px;color:#000;font-weight:bold;width:100.16666666666667px;text-align:center;">F</div>
<div style="left:2166.67px;top:829.82px;font-size:35.5px;line-height:35.5px;color:#000;transform:scaleX(0.94);transform-origin:right 50%;width:94.16666666666667px;text-align:right;">21:15</div>
<div style="left:2266.83px;top:829.82px;font-size:35.5px;line-height:35.5px;color:#EE0000;transform:scaleX(0.94);transform-origin:right 50%;width:94.16666666666667px;text-align:right;">22:00</div>
<div style="left:114.00px;top:907.87px;font-size:35px;line-height:35px;color:#999999;font-weight:bold;width:76px;text-align:center;">9</div>
<div style="left:196.00px;top:882.61px;font-size:17px;line-height:17px;color:#000;-webkit-text-stroke:0.35px #000;">ハセガワシゴデキ</div>
<div style="left:196.00px;top:914.45px;font-size:29px;line-height:29px;color:#000;">長谷川シゴデキ</div>
<div style="left:451.00px;top:881.76px;font-size:18px;line-height:18px;color:#0000C0;">水着あり</div>
<div style="left:564.00px;top:897.06px;font-size:46px;line-height:46px;color:#000;font-weight:bold;width:100.16666666666667px;text-align:center;">A</div>
<div style="left:664.17px;top:909.45px;font-size:35.5px;line-height:35.5px;color:#000;transform:scaleX(0.94);transform-origin:right 50%;width:94.16666666666667px;text-align:right;">14:35</div>
<div style="left:764.33px;top:909.45px;font-size:35.5px;line-height:35.5px;color:#EE0000;transform:scaleX(0.94);transform-origin:right 50%;width:94.16666666666667px;text-align:right;">15:15</div>
<div style="left:864.50px;top:897.06px;font-size:46px;line-height:46px;color:#000;font-weight:bold;width:100.16666666666667px;text-align:center;">E</div>
<div style="left:964.67px;top:909.45px;font-size:35.5px;line-height:35.5px;color:#000;transform:scaleX(0.94);transform-origin:right 50%;width:94.16666666666667px;text-align:right;">15:55</div>
<div style="left:1064.83px;top:909.45px;font-size:35.5px;line-height:35.5px;color:#EE0000;transform:scaleX(0.94);transform-origin:right 50%;width:94.16666666666667px;text-align:right;">16:35</div>
<div style="left:1165.00px;top:897.06px;font-size:46px;line-height:46px;color:#000;font-weight:bold;width:100.16666666666667px;text-align:center;">B</div>
<div style="left:1265.17px;top:909.45px;font-size:35.5px;line-height:35.5px;color:#000;transform:scaleX(0.94);transform-origin:right 50%;width:94.16666666666667px;text-align:right;">17:15</div>
<div style="left:1365.33px;top:909.45px;font-size:35.5px;line-height:35.5px;color:#EE0000;transform:scaleX(0.94);transform-origin:right 50%;width:94.16666666666667px;text-align:right;">17:55</div>
<div style="left:1465.50px;top:897.06px;font-size:46px;line-height:46px;color:#000;font-weight:bold;width:100.16666666666667px;text-align:center;">F</div>
<div style="left:1565.67px;top:909.45px;font-size:35.5px;line-height:35.5px;color:#000;transform:scaleX(0.94);transform-origin:right 50%;width:94.16666666666667px;text-align:right;">18:35</div>
<div style="left:1665.83px;top:909.45px;font-size:35.5px;line-height:35.5px;color:#EE0000;transform:scaleX(0.94);transform-origin:right 50%;width:94.16666666666667px;text-align:right;">19:15</div>
<div style="left:1766.00px;top:897.06px;font-size:46px;line-height:46px;color:#000;font-weight:bold;width:100.16666666666667px;text-align:center;">C</div>
<div style="left:1866.17px;top:909.45px;font-size:35.5px;line-height:35.5px;color:#000;transform:scaleX(0.94);transform-origin:right 50%;font-weight:bold;width:94.16666666666667px;text-align:right;text-decoration:underline;text-decoration-thickness:2px;text-underline-offset:3px;">19:55</div>
<div style="left:1966.33px;top:909.45px;font-size:35.5px;line-height:35.5px;color:#EE0000;transform:scaleX(0.94);transform-origin:right 50%;width:94.16666666666667px;text-align:right;">20:35</div>
<div style="left:2066.50px;top:897.06px;font-size:46px;line-height:46px;color:#000;font-weight:bold;width:100.16666666666667px;text-align:center;">G</div>
<div style="left:2166.67px;top:909.45px;font-size:35.5px;line-height:35.5px;color:#000;transform:scaleX(0.94);transform-origin:right 50%;width:94.16666666666667px;text-align:right;">21:20</div>
<div style="left:2266.83px;top:909.45px;font-size:35.5px;line-height:35.5px;color:#EE0000;transform:scaleX(0.94);transform-origin:right 50%;width:94.16666666666667px;text-align:right;">22:00</div>
<div style="left:114.00px;top:981.50px;font-size:35px;line-height:35px;color:#999999;font-weight:bold;width:76px;text-align:center;">10</div>
<div style="left:196.00px;top:956.23px;font-size:17px;line-height:17px;color:#000;-webkit-text-stroke:0.35px #000;">カンザキモモ</div>
<div style="left:196.00px;top:988.08px;font-size:29px;line-height:29px;color:#000;">甘咲もも</div>
<div style="left:564.00px;top:970.69px;font-size:46px;line-height:46px;color:#000;font-weight:bold;width:100.16666666666667px;text-align:center;">B</div>
<div style="left:664.17px;top:983.07px;font-size:35.5px;line-height:35.5px;color:#000;transform:scaleX(0.94);transform-origin:right 50%;width:94.16666666666667px;text-align:right;">14:40</div>
<div style="left:764.33px;top:983.07px;font-size:35.5px;line-height:35.5px;color:#EE0000;transform:scaleX(0.94);transform-origin:right 50%;width:94.16666666666667px;text-align:right;">15:25</div>
<div style="left:864.50px;top:970.69px;font-size:46px;line-height:46px;color:#000;font-weight:bold;width:100.16666666666667px;text-align:center;">F</div>
<div style="left:964.67px;top:983.07px;font-size:35.5px;line-height:35.5px;color:#000;transform:scaleX(0.94);transform-origin:right 50%;width:94.16666666666667px;text-align:right;">16:05</div>
<div style="left:1064.83px;top:983.07px;font-size:35.5px;line-height:35.5px;color:#EE0000;transform:scaleX(0.94);transform-origin:right 50%;width:94.16666666666667px;text-align:right;">16:45</div>
<div style="left:1165.00px;top:970.69px;font-size:46px;line-height:46px;color:#000;font-weight:bold;width:100.16666666666667px;text-align:center;">C</div>
<div style="left:1265.17px;top:983.07px;font-size:35.5px;line-height:35.5px;color:#000;transform:scaleX(0.94);transform-origin:right 50%;width:94.16666666666667px;text-align:right;">17:25</div>
<div style="left:1365.33px;top:983.07px;font-size:35.5px;line-height:35.5px;color:#EE0000;transform:scaleX(0.94);transform-origin:right 50%;width:94.16666666666667px;text-align:right;">18:05</div>
<div style="left:1465.50px;top:970.69px;font-size:46px;line-height:46px;color:#000;font-weight:bold;width:100.16666666666667px;text-align:center;">G</div>
<div style="left:1565.67px;top:983.07px;font-size:35.5px;line-height:35.5px;color:#000;transform:scaleX(0.94);transform-origin:right 50%;width:94.16666666666667px;text-align:right;">18:45</div>
<div style="left:1665.83px;top:983.07px;font-size:35.5px;line-height:35.5px;color:#EE0000;transform:scaleX(0.94);transform-origin:right 50%;width:94.16666666666667px;text-align:right;">19:25</div>
<div style="left:1766.00px;top:970.69px;font-size:46px;line-height:46px;color:#000;font-weight:bold;width:100.16666666666667px;text-align:center;">D</div>
<div style="left:1866.17px;top:983.07px;font-size:35.5px;line-height:35.5px;color:#000;transform:scaleX(0.94);transform-origin:right 50%;width:94.16666666666667px;text-align:right;">20:05</div>
<div style="left:1966.33px;top:983.07px;font-size:35.5px;line-height:35.5px;color:#EE0000;transform:scaleX(0.94);transform-origin:right 50%;width:94.16666666666667px;text-align:right;">20:45</div>
<div style="left:2066.50px;top:970.69px;font-size:46px;line-height:46px;color:#000;font-weight:bold;width:100.16666666666667px;text-align:center;">H</div>
<div style="left:2166.67px;top:983.07px;font-size:35.5px;line-height:35.5px;color:#000;transform:scaleX(0.94);transform-origin:right 50%;width:94.16666666666667px;text-align:right;">21:25</div>
<div style="left:2266.83px;top:983.07px;font-size:35.5px;line-height:35.5px;color:#EE0000;transform:scaleX(0.94);transform-origin:right 50%;width:94.16666666666667px;text-align:right;">22:00</div>
<div style="left:114.00px;top:1061.12px;font-size:35px;line-height:35px;color:#999999;font-weight:bold;width:76px;text-align:center;">11</div>
<div style="left:196.00px;top:1035.86px;font-size:17px;line-height:17px;color:#000;-webkit-text-stroke:0.35px #000;">ホシムラリオ</div>
<div style="left:196.00px;top:1067.70px;font-size:29px;line-height:29px;color:#000;">星村莉緒</div>
<div style="left:564.00px;top:1050.31px;font-size:46px;line-height:46px;color:#000;font-weight:bold;width:100.16666666666667px;text-align:center;">C</div>
<div style="left:664.17px;top:1062.70px;font-size:35.5px;line-height:35.5px;color:#000;transform:scaleX(0.94);transform-origin:right 50%;width:94.16666666666667px;text-align:right;">14:45</div>
<div style="left:764.33px;top:1062.70px;font-size:35.5px;line-height:35.5px;color:#EE0000;transform:scaleX(0.94);transform-origin:right 50%;width:94.16666666666667px;text-align:right;">15:35</div>
<div style="left:864.50px;top:1050.31px;font-size:46px;line-height:46px;color:#000;font-weight:bold;width:100.16666666666667px;text-align:center;">G</div>
<div style="left:964.67px;top:1062.70px;font-size:35.5px;line-height:35.5px;color:#000;transform:scaleX(0.94);transform-origin:right 50%;width:94.16666666666667px;text-align:right;">16:15</div>
<div style="left:1064.83px;top:1062.70px;font-size:35.5px;line-height:35.5px;color:#EE0000;transform:scaleX(0.94);transform-origin:right 50%;width:94.16666666666667px;text-align:right;">16:55</div>
<div style="left:1165.00px;top:1050.31px;font-size:46px;line-height:46px;color:#000;font-weight:bold;width:100.16666666666667px;text-align:center;">D</div>
<div style="left:1265.17px;top:1062.70px;font-size:35.5px;line-height:35.5px;color:#000;transform:scaleX(0.94);transform-origin:right 50%;width:94.16666666666667px;text-align:right;">17:30</div>
<div style="left:1365.33px;top:1062.70px;font-size:35.5px;line-height:35.5px;color:#EE0000;transform:scaleX(0.94);transform-origin:right 50%;width:94.16666666666667px;text-align:right;">18:10</div>
<div style="left:1465.50px;top:1050.31px;font-size:46px;line-height:46px;color:#000;font-weight:bold;width:100.16666666666667px;text-align:center;">H</div>
<div style="left:1565.67px;top:1062.70px;font-size:35.5px;line-height:35.5px;color:#000;transform:scaleX(0.94);transform-origin:right 50%;width:94.16666666666667px;text-align:right;">18:50</div>
<div style="left:1665.83px;top:1062.70px;font-size:35.5px;line-height:35.5px;color:#EE0000;transform:scaleX(0.94);transform-origin:right 50%;width:94.16666666666667px;text-align:right;">19:30</div>
<div style="left:1766.00px;top:1050.31px;font-size:46px;line-height:46px;color:#000;font-weight:bold;width:100.16666666666667px;text-align:center;">E</div>
<div style="left:1866.17px;top:1062.70px;font-size:35.5px;line-height:35.5px;color:#000;transform:scaleX(0.94);transform-origin:right 50%;width:94.16666666666667px;text-align:right;">20:10</div>
<div style="left:1966.33px;top:1062.70px;font-size:35.5px;line-height:35.5px;color:#EE0000;transform:scaleX(0.94);transform-origin:right 50%;width:94.16666666666667px;text-align:right;">20:50</div>
<div style="left:2066.50px;top:1050.31px;font-size:46px;line-height:46px;color:#000;font-weight:bold;width:100.16666666666667px;text-align:center;">A</div>
<div style="left:2166.67px;top:1062.70px;font-size:35.5px;line-height:35.5px;color:#000;transform:scaleX(0.94);transform-origin:right 50%;font-weight:bold;width:94.16666666666667px;text-align:right;text-decoration:underline;text-decoration-thickness:2px;text-underline-offset:3px;">21:30</div>
<div style="left:2266.83px;top:1062.70px;font-size:35.5px;line-height:35.5px;color:#EE0000;transform:scaleX(0.94);transform-origin:right 50%;width:94.16666666666667px;text-align:right;">22:00</div>
<div style="left:114.00px;top:1134.75px;font-size:35px;line-height:35px;color:#999999;font-weight:bold;width:76px;text-align:center;">12</div>
<div style="left:196.00px;top:1109.48px;font-size:17px;line-height:17px;color:#000;-webkit-text-stroke:0.35px #000;">シラベユイ</div>
<div style="left:196.00px;top:1141.33px;font-size:29px;line-height:29px;color:#000;">白部由依</div>
<div style="left:451.00px;top:1108.64px;font-size:18px;line-height:18px;color:#0000C0;">水着あり</div>
<div style="left:564.00px;top:1123.94px;font-size:46px;line-height:46px;color:#000;font-weight:bold;width:100.16666666666667px;text-align:center;">D</div>
<div style="left:664.17px;top:1136.32px;font-size:35.5px;line-height:35.5px;color:#000;transform:scaleX(0.94);transform-origin:right 50%;width:94.16666666666667px;text-align:right;">14:50</div>
<div style="left:764.33px;top:1136.32px;font-size:35.5px;line-height:35.5px;color:#EE0000;transform:scaleX(0.94);transform-origin:right 50%;width:94.16666666666667px;text-align:right;">15:40</div>
<div style="left:864.50px;top:1123.94px;font-size:46px;line-height:46px;color:#000;font-weight:bold;width:100.16666666666667px;text-align:center;">H</div>
<div style="left:964.67px;top:1136.32px;font-size:35.5px;line-height:35.5px;color:#000;transform:scaleX(0.94);transform-origin:right 50%;width:94.16666666666667px;text-align:right;">16:20</div>
<div style="left:1064.83px;top:1136.32px;font-size:35.5px;line-height:35.5px;color:#EE0000;transform:scaleX(0.94);transform-origin:right 50%;width:94.16666666666667px;text-align:right;">17:00</div>
<div style="left:1165.00px;top:1123.94px;font-size:46px;line-height:46px;color:#000;font-weight:bold;width:100.16666666666667px;text-align:center;">E</div>
<div style="left:1265.17px;top:1136.32px;font-size:35.5px;line-height:35.5px;color:#000;transform:scaleX(0.94);transform-origin:right 50%;width:94.16666666666667px;text-align:right;">17:35</div>
<div style="left:1365.33px;top:1136.32px;font-size:35.5px;line-height:35.5px;color:#EE0000;transform:scaleX(0.94);transform-origin:right 50%;width:94.16666666666667px;text-align:right;">18:15</div>
<div style="left:1465.50px;top:1123.94px;font-size:46px;line-height:46px;color:#000;font-weight:bold;width:100.16666666666667px;text-align:center;">A</div>
<div style="left:1565.67px;top:1136.32px;font-size:35.5px;line-height:35.5px;color:#000;transform:scaleX(0.94);transform-origin:right 50%;width:94.16666666666667px;text-align:right;">18:55</div>
<div style="left:1665.83px;top:1136.32px;font-size:35.5px;line-height:35.5px;color:#EE0000;transform:scaleX(0.94);transform-origin:right 50%;width:94.16666666666667px;text-align:right;">19:35</div>
<div style="left:1766.00px;top:1123.94px;font-size:46px;line-height:46px;color:#000;font-weight:bold;width:100.16666666666667px;text-align:center;">F</div>
<div style="left:1866.17px;top:1136.32px;font-size:35.5px;line-height:35.5px;color:#000;transform:scaleX(0.94);transform-origin:right 50%;width:94.16666666666667px;text-align:right;">20:15</div>
<div style="left:1966.33px;top:1136.32px;font-size:35.5px;line-height:35.5px;color:#EE0000;transform:scaleX(0.94);transform-origin:right 50%;width:94.16666666666667px;text-align:right;">20:55</div>
<div style="left:2066.50px;top:1123.94px;font-size:46px;line-height:46px;color:#000;font-weight:bold;width:100.16666666666667px;text-align:center;">B</div>
<div style="left:2166.67px;top:1136.32px;font-size:35.5px;line-height:35.5px;color:#000;transform:scaleX(0.94);transform-origin:right 50%;font-weight:bold;width:94.16666666666667px;text-align:right;text-decoration:underline;text-decoration-thickness:2px;text-underline-offset:3px;">21:30</div>
<div style="left:2266.83px;top:1136.32px;font-size:35.5px;line-height:35.5px;color:#EE0000;transform:scaleX(0.94);transform-origin:right 50%;width:94.16666666666667px;text-align:right;">22:00</div>
<div style="left:746.00px;top:1187.68px;font-size:24px;line-height:24px;color:#C9452B;font-weight:bold;"><span class="b">※タイムテーブルは目安であり、当日の状況によって予告なく変更することがあります。</span></div>
<div style="left:549.00px;top:1219.26px;font-size:24.5px;line-height:24.5px;color:#C9452B;font-weight:bold;"><span class="b">※閉会式後は全員でチェキタイムがあります。 ※<span style="margin:0 3px">[</span>薔薇の差し入れ<span style="margin:0 3px">][</span>チェキコイン<span style="margin:0 3px">]</span>の購入締め切りは　 <span style="margin-left:2px">”</span> <span style="letter-spacing:5px">21:35</span> ”<span style="margin-left:5px">です。</span></span></div>
<div style="left:644.00px;top:1275.30px;font-size:28px;line-height:28px;color:#000;font-weight:bold;"><span class="b"><span style="font-size:32px">▼▽</span> タイムテーブルの参照方法　<span style="font-size:32px">▽▼</span></span></div>
<div style="left:114px;top:1314px;width:650px;height:62px;background:#FFF2CC;"></div>
<div style="left:1766px;top:1314px;width:0px;height:0px;background:#fff;"></div>
<div style="left:766px;top:1314px;width:900px;height:62px;background:#FFF2CC;"></div>
<div style="left:114px;top:1564px;width:1552px;height:60px;background:#FFF2CC;"></div>
<div style="left:444.5px;top:1439px;width:119.5px;height:123px;background:#ABD7F4;"></div>
<div style="left:764px;top:1624px;width:200px;height:61px;background:#ABD7F4;"></div>
<div style="left:964px;top:1624px;width:301px;height:61px;background:#FFCB45;"></div>
<div style="left:1265px;top:1624px;width:401px;height:61px;background:#F8A98E;"></div>
<div style="left:1866px;top:1376px;width:201px;height:62px;background:#B7B7B7;"></div>
<div style="left:2167px;top:1376px;width:201px;height:62px;background:#D0E0E3;"></div>
<div style="left:1866px;top:1438px;width:201px;height:62px;background:#F2F2F2;"></div>
<div style="left:2167px;top:1438px;width:201px;height:62px;background:#CCCCCC;"></div>
<div style="left:1866px;top:1500px;width:201px;height:62px;background:#FFFFFF;"></div>
<div style="left:2167px;top:1500px;width:201px;height:62px;background:#FFD966;"></div>
<div style="left:1866px;top:1562px;width:201px;height:62px;background:#B6D7A8;"></div>
<div style="left:2167px;top:1562px;width:201px;height:62px;background:#FFFFAA;"></div>
<div style="left:764px;top:1313.0px;width:902px;height:2px;background:#000;"></div>
<div style="left:764px;top:1375.0px;width:902px;height:2px;background:#000;"></div>
<div style="left:764px;top:1437.0px;width:902px;height:2px;background:#000;"></div>
<div style="left:764px;top:1499.0px;width:902px;height:2px;background:#000;"></div>
<div style="left:764px;top:1561.0px;width:902px;height:2px;background:#000;"></div>
<div style="left:1665.0px;top:1313px;width:2px;height:373px;background:#000;"></div>
<div style="left:1264.0px;top:1376px;width:2px;height:186px;background:#000;"></div>
<div style="left:114px;top:1375.0px;width:650px;height:2px;background:#000;"></div>
<div style="left:114px;top:1438.0px;width:650px;height:2px;background:#000;"></div>
<div style="left:188.0px;top:1376px;width:2px;height:186px;background:#000;"></div>
<div style="left:443.5px;top:1376px;width:2px;height:186px;background:#000;"></div>
<div style="left:563.0px;top:1439px;width:2px;height:123px;background:#000;"></div>
<div style="left:663.0px;top:1439px;width:2px;height:123px;background:#000;"></div>
<div style="left:190px;top:1499px;width:254px;height:2px;background:#d9d9d9;"></div>
<div style="left:112px;top:1312px;width:654px;height:252px;border:4px solid #000;box-sizing:border-box"></div>
<div style="left:114px;top:1623.0px;width:1552px;height:2px;background:#000;"></div>
<div style="left:113px;top:1684.0px;width:1553px;height:2px;background:#000;"></div>
<div style="left:113.0px;top:1564px;width:2px;height:122px;background:#000;"></div>
<div style="left:763.0px;top:1624px;width:2px;height:62px;background:#000;"></div>
<div style="left:963.0px;top:1624px;width:2px;height:62px;background:#000;"></div>
<div style="left:1264.0px;top:1624px;width:2px;height:62px;background:#000;"></div>
<div style="left:1765px;top:1313.0px;width:604px;height:2px;background:#000;"></div>
<div style="left:1765px;top:1375.0px;width:604px;height:2px;background:#000;"></div>
<div style="left:1765px;top:1437.0px;width:604px;height:2px;background:#000;"></div>
<div style="left:1765px;top:1499.0px;width:604px;height:2px;background:#000;"></div>
<div style="left:1765px;top:1561.0px;width:604px;height:2px;background:#000;"></div>
<div style="left:1765px;top:1623.0px;width:604px;height:2px;background:#000;"></div>
<div style="left:1765.0px;top:1313px;width:2px;height:312px;background:#000;"></div>
<div style="left:2367.0px;top:1313px;width:2px;height:312px;background:#000;"></div>
<div style="left:1865.0px;top:1376px;width:2px;height:248px;background:#000;"></div>
<div style="left:2066.0px;top:1376px;width:2px;height:248px;background:#000;"></div>
<div style="left:2166.0px;top:1376px;width:2px;height:248px;background:#000;"></div>
<div style="left:114.00px;top:1342.30px;font-size:28px;line-height:28px;color:#000;font-weight:bold;width:650px;text-align:center;"><span class="b">【 例 】</span></div>
<div style="left:764.00px;top:1342.30px;font-size:28px;line-height:28px;color:#000;font-weight:bold;width:902px;text-align:center;"><span class="b">【 見方 】</span></div>
<div style="left:114.00px;top:1414.38px;font-size:22px;line-height:22px;color:#000;width:75px;text-align:center;">順番</div>
<div style="left:189.00px;top:1411.84px;font-size:25px;line-height:25px;color:#000;width:255px;text-align:center;">出演者名</div>
<div style="left:444.00px;top:1392.38px;font-size:22px;line-height:22px;color:#000;width:320px;text-align:center;">1ターン目</div>
<div style="left:444.00px;top:1415.22px;font-size:21px;line-height:21px;color:#000;width:320px;text-align:center;">▽▽</div>
<div style="left:114.00px;top:1494.60px;font-size:56px;line-height:56px;color:#808080;font-weight:bold;width:75px;text-align:center;">1</div>
<div style="left:200.00px;top:1473.07px;font-size:20px;line-height:20px;color:#000;">フレッシュハナコ</div>
<div style="left:204.00px;top:1521.41px;font-size:32px;line-height:32px;color:#000;"><span style="letter-spacing:1.8px">新鮮花子</span></div>
<div style="left:444.50px;top:1492.21px;font-size:60px;line-height:60px;color:#000;width:119.5px;text-align:center;">A</div>
<div style="left:564.00px;top:1520.57px;font-size:33px;line-height:33px;color:#000;width:94.5px;text-align:right;">14:00</div>
<div style="left:664.00px;top:1520.57px;font-size:33px;line-height:33px;color:#EE0000;width:94.5px;text-align:right;">14:30</div>
<div style="left:764.00px;top:1412.22px;font-size:21px;line-height:21px;color:#000;width:501px;text-align:center;"><span style="letter-spacing:-1px">アルファベット：撮影エリア</span></div>
<div style="left:1265.00px;top:1412.22px;font-size:21px;line-height:21px;color:#000;width:401px;text-align:center;"><span style="letter-spacing:0.8px">Aのエリアでの撮影</span></div>
<div style="left:764.00px;top:1449.22px;font-size:21px;line-height:21px;color:#000;width:501px;text-align:center;"><span style="letter-spacing:0.8px">黒数字：新鮮花子さん</span></div>
<div style="left:764.00px;top:1474.22px;font-size:21px;line-height:21px;color:#000;width:501px;text-align:center;"><span style="letter-spacing:0.8px">〇ターン目の撮影開始時間</span></div>
<div style="left:1265.00px;top:1474.22px;font-size:21px;line-height:21px;color:#000;width:401px;text-align:center;"><span style="letter-spacing:0.8px">14:00から撮影開始</span></div>
<div style="left:764.00px;top:1511.22px;font-size:21px;line-height:21px;color:#EE0000;width:501px;text-align:center;"><span style="letter-spacing:0.8px">赤数字：新鮮花子さん</span></div>
<div style="left:764.00px;top:1536.22px;font-size:21px;line-height:21px;color:#EE0000;width:501px;text-align:center;"><span style="letter-spacing:0.8px">〇ターン目の撮影終了時間</span></div>
<div style="left:1265.00px;top:1511.22px;font-size:21px;line-height:21px;color:#000;width:401px;text-align:center;"><span style="letter-spacing:-1px">14:30からチェキタイム</span></div>
<div style="left:1265.00px;top:1536.22px;font-size:21px;line-height:21px;color:#000;width:401px;text-align:center;"><span style="letter-spacing:0.8px">その後、休憩</span></div>
<div style="left:114.00px;top:1588.61px;font-size:30px;line-height:30px;color:#000;font-weight:bold;width:1540px;text-align:center;"><span class="b">【 出演衣装の確認方法　】</span></div>
<div style="left:114.00px;top:1633.22px;font-size:21px;line-height:21px;color:#000;width:650px;text-align:center;"><span style="letter-spacing:-1px">アルファベット枠内の色：着用衣装</span></div>
<div style="left:114.00px;top:1658.22px;font-size:21px;line-height:21px;color:#000;width:650px;text-align:center;"><span style="letter-spacing:0.8px">上記例は水着で出演</span></div>
<div style="left:764.00px;top:1646.22px;font-size:21px;line-height:21px;color:#000;width:200px;text-align:center;"><span style="letter-spacing:0.8px">水着で出演</span></div>
<div style="left:964.00px;top:1633.22px;font-size:21px;line-height:21px;color:#000;width:301px;text-align:center;"><span style="letter-spacing:-1px">コンセプトイメージの</span></div>
<div style="left:964.00px;top:1658.22px;font-size:21px;line-height:21px;color:#000;width:301px;text-align:center;"><span style="letter-spacing:0.8px">衣装で出演</span></div>
<div style="left:1265.00px;top:1633.22px;font-size:21px;line-height:21px;color:#000;width:401px;text-align:center;"><span style="letter-spacing:0.8px">モデルさんへおまかせ</span></div>
<div style="left:1265.00px;top:1658.22px;font-size:21px;line-height:21px;color:#000;width:401px;text-align:center;"><span style="letter-spacing:-1px">プロデュース衣装で出演</span></div>
<div style="left:1766.00px;top:1342.30px;font-size:28px;line-height:28px;color:#000;font-weight:bold;width:602px;text-align:center;"><span class="b" style="letter-spacing:-1.5px">【 各エリアイメージ　】</span></div>
<div style="left:1766.00px;top:1397.72px;font-size:34px;line-height:34px;color:#000;font-weight:bold;width:100px;text-align:center;">A</div>
<div style="left:1866.00px;top:1400.07px;font-size:33px;line-height:33px;color:#000;font-weight:bold;width:201px;text-align:center;"><span class="b" style="letter-spacing:-3px">ブラック</span></div>
<div style="left:2067.00px;top:1397.72px;font-size:34px;line-height:34px;color:#000;font-weight:bold;width:100px;text-align:center;">E</div>
<div style="left:2167.00px;top:1400.07px;font-size:33px;line-height:33px;color:#000;font-weight:bold;width:201px;text-align:center;"><span class="b" style="letter-spacing:-3px">テラス</span></div>
<div style="left:1766.00px;top:1459.72px;font-size:34px;line-height:34px;color:#000;font-weight:bold;width:100px;text-align:center;">B</div>
<div style="left:1866.00px;top:1462.07px;font-size:33px;line-height:33px;color:#000;font-weight:bold;width:201px;text-align:center;"><span class="b" style="letter-spacing:-3px">バスタブ</span></div>
<div style="left:2067.00px;top:1459.72px;font-size:34px;line-height:34px;color:#000;font-weight:bold;width:100px;text-align:center;">F</div>
<div style="left:2167.00px;top:1462.07px;font-size:33px;line-height:33px;color:#000;font-weight:bold;width:201px;text-align:center;"><span class="b" style="letter-spacing:-3px">鏡</span></div>
<div style="left:1766.00px;top:1521.72px;font-size:34px;line-height:34px;color:#000;font-weight:bold;width:100px;text-align:center;">C</div>
<div style="left:1866.00px;top:1524.07px;font-size:33px;line-height:33px;color:#000;font-weight:bold;width:201px;text-align:center;"><span class="b" style="letter-spacing:-3px">ホワイト</span></div>
<div style="left:2067.00px;top:1521.72px;font-size:34px;line-height:34px;color:#000;font-weight:bold;width:100px;text-align:center;">G</div>
<div style="left:2167.00px;top:1524.07px;font-size:33px;line-height:33px;color:#000;font-weight:bold;width:201px;text-align:center;"><span class="b" style="letter-spacing:-3px">学校</span></div>
<div style="left:1766.00px;top:1583.72px;font-size:34px;line-height:34px;color:#000;font-weight:bold;width:100px;text-align:center;">D</div>
<div style="left:1866.00px;top:1586.07px;font-size:33px;line-height:33px;color:#000;font-weight:bold;width:201px;text-align:center;"><span class="b" style="letter-spacing:-3px">和室</span></div>
<div style="left:2067.00px;top:1583.72px;font-size:34px;line-height:34px;color:#000;font-weight:bold;width:100px;text-align:center;">H</div>
<div style="left:2167.00px;top:1586.07px;font-size:33px;line-height:33px;color:#000;font-weight:bold;width:201px;text-align:center;"><span class="b" style="letter-spacing:-3px">ベッド</span></div>
<div style="left:769px;top:202px;width:39px;height:2px;background:#000;"></div>
<div style="left:1022px;top:202px;width:37px;height:2px;background:#000;"></div>
<div style="left:1594px;top:202px;width:36px;height:2px;background:#000;"></div>
<div style="left:2003px;top:202px;width:38px;height:2px;background:#000;"></div>
</body></html>
